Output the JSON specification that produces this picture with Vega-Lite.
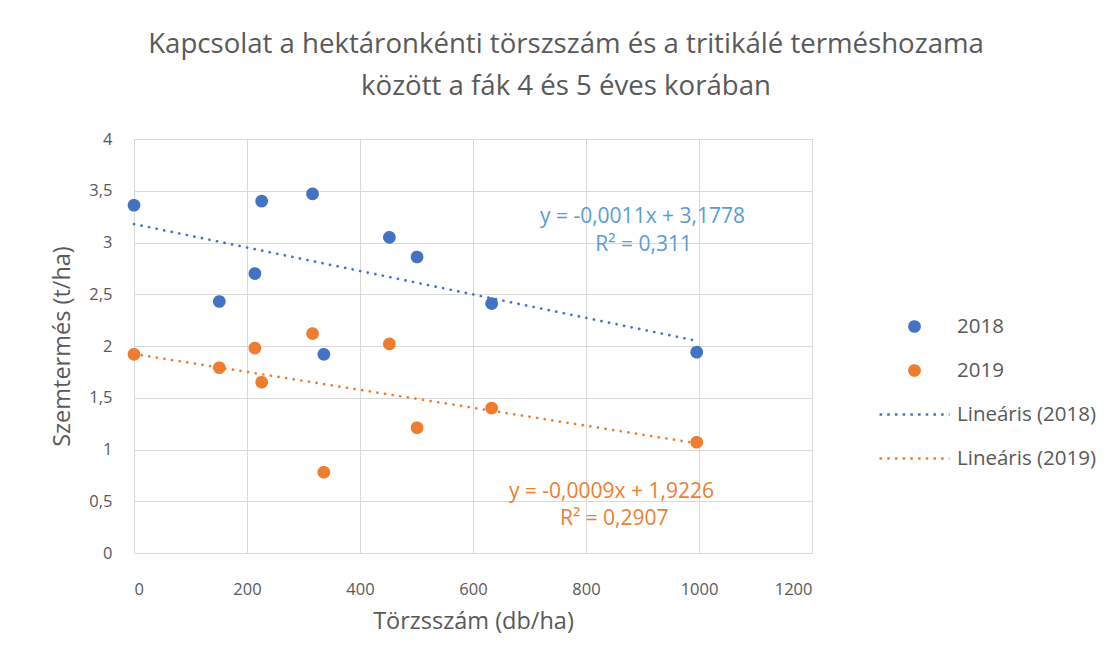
{
  "$schema": "https://vega.github.io/schema/vega-lite/v6.json",
  "width": 678,
  "height": 414,
  "autosize": {"type": "none"},
  "padding": {"left": 134, "top": 139, "right": 306, "bottom": 115},
  "background": "white",
  "title": {
    "text": ["Kapcsolat a hektáronkénti törszszám és a tritikálé terméshozama", "között a fák 4 és 5 éves korában"],
    "font": "Open Sans",
    "fontSize": 27.6,
    "fontWeight": "normal",
    "color": "#595959",
    "anchor": "middle",
    "frame": "group",
    "dx": 93,
    "lineHeight": 42,
    "baseline": "bottom",
    "offset": 2
  },
  "datasets": {
    "points": [
      {"x": 0, "y": 3.36, "series": "2018"},
      {"x": 151, "y": 2.43, "series": "2018"},
      {"x": 214, "y": 2.70, "series": "2018"},
      {"x": 226, "y": 3.40, "series": "2018"},
      {"x": 316, "y": 3.47, "series": "2018"},
      {"x": 336, "y": 1.92, "series": "2018"},
      {"x": 452, "y": 3.05, "series": "2018"},
      {"x": 501, "y": 2.86, "series": "2018"},
      {"x": 633, "y": 2.41, "series": "2018"},
      {"x": 996, "y": 1.94, "series": "2018"},
      {"x": 0, "y": 1.92, "series": "2019"},
      {"x": 151, "y": 1.79, "series": "2019"},
      {"x": 214, "y": 1.98, "series": "2019"},
      {"x": 226, "y": 1.65, "series": "2019"},
      {"x": 316, "y": 2.12, "series": "2019"},
      {"x": 336, "y": 0.78, "series": "2019"},
      {"x": 452, "y": 2.02, "series": "2019"},
      {"x": 501, "y": 1.21, "series": "2019"},
      {"x": 633, "y": 1.40, "series": "2019"},
      {"x": 996, "y": 1.07, "series": "2019"}
    ],
    "trend2018": [
      {"x": 0, "y": 3.178},
      {"x": 996, "y": 2.05}
    ],
    "trend2019": [
      {"x": 0, "y": 1.923},
      {"x": 996, "y": 1.06}
    ],
    "note2018": [
      {"x": 900, "y": 3.246, "text": "y = -0,0011x + 3,1778"},
      {"x": 902, "y": 2.976, "text": "R² = 0,311"}
    ],
    "note2019": [
      {"x": 845, "y": 0.589, "text": "y = -0,0009x + 1,9226"},
      {"x": 850, "y": 0.329, "text": "R² = 0,2907"}
    ]
  },
  "config": {
    "font": "Open Sans",
    "view": {"stroke": null},
    "axis": {
      "domain": false,
      "ticks": false,
      "grid": true,
      "gridColor": "#D9D9D9",
      "gridWidth": 1,
      "labelFont": "Open Sans",
      "labelFontSize": 16.5,
      "labelColor": "#595959",
      "titleFont": "Open Sans",
      "titleFontSize": 23.5,
      "titleFontWeight": "normal",
      "titleColor": "#595959"
    }
  },
  "layer": [
    {
      "data": {"name": "trend2018"},
      "mark": {"type": "line", "stroke": "#4472C4", "strokeWidth": 2.7, "strokeCap": "round", "strokeDash": [0.1, 7.6]},
      "encoding": {
        "x": {
          "field": "x", "type": "quantitative",
          "scale": {"domain": [0, 1200], "nice": false},
          "axis": {"values": [0, 200, 400, 600, 800, 1000, 1200], "format": "d", "title": "Törzsszám (db/ha)", "labelPadding": 28, "titlePadding": 12}
        },
        "y": {
          "field": "y", "type": "quantitative",
          "scale": {"domain": [0, 4], "nice": false},
          "axis": {"values": [0, 0.5, 1, 1.5, 2, 2.5, 3, 3.5, 4], "labelExpr": "replace(format(datum.value, '~g'), '.', ',')", "title": "Szemtermés (t/ha)", "labelPadding": 22, "titlePadding": 14}
        }
      }
    },
    {
      "data": {"name": "trend2019"},
      "mark": {"type": "line", "stroke": "#ED7D31", "strokeWidth": 2.7, "strokeCap": "round", "strokeDash": [0.1, 7.6]},
      "encoding": {
        "x": {"field": "x", "type": "quantitative"},
        "y": {"field": "y", "type": "quantitative"}
      }
    },
    {
      "data": {"name": "points"},
      "mark": {"type": "point", "filled": true, "size": 400, "strokeWidth": 2.7, "opacity": 1},
      "encoding": {
        "x": {"field": "x", "type": "quantitative"},
        "y": {"field": "y", "type": "quantitative"},
        "color": {
          "field": "series", "type": "nominal",
          "scale": {"domain": ["2018", "2019", "Lineáris (2018)", "Lineáris (2019)"], "range": ["#4472C4", "#ED7D31", "#4472C4", "#ED7D31"]},
          "legend": {
            "title": null,
            "orient": "none",
            "legendX": 769,
            "legendY": 176,
            "padding": 0,
            "symbolSize": 400,
            "symbolStrokeWidth": 2.7,
            "labelFont": "Open Sans",
            "labelFontSize": 20.5,
            "labelColor": "#595959",
            "labelOffset": 31,
            "rowPadding": 22
          }
        },
        "stroke": {
          "field": "series", "type": "nominal",
          "scale": {"domain": ["2018", "2019", "Lineáris (2018)", "Lineáris (2019)"], "range": ["#4472C4", "#ED7D31", "#4472C4", "#ED7D31"]}
        },
        "shape": {
          "field": "series", "type": "nominal",
          "scale": {"domain": ["2018", "2019", "Lineáris (2018)", "Lineáris (2019)"], "range": ["M-0.5,0A0.5,0.5,0,1,1,0.5,0A0.5,0.5,0,1,1,-0.5,0Z", "M-0.5,0A0.5,0.5,0,1,1,0.5,0A0.5,0.5,0,1,1,-0.5,0Z", "M-3.5,0H3.5", "M-3.5,0H3.5"]}
        },
        "strokeDash": {
          "field": "series", "type": "nominal",
          "scale": {"domain": ["2018", "2019", "Lineáris (2018)", "Lineáris (2019)"], "range": [[1, 0], [1, 0], [2.6, 5.1], [2.6, 5.1]]}
        }
      }
    },
    {
      "data": {"name": "note2018"},
      "mark": {"type": "text", "font": "Open Sans", "fontSize": 21, "color": "#5B9BD5", "align": "center", "baseline": "middle"},
      "encoding": {
        "x": {"field": "x", "type": "quantitative"},
        "y": {"field": "y", "type": "quantitative"},
        "text": {"field": "text", "type": "nominal"}
      }
    },
    {
      "data": {"name": "note2019"},
      "mark": {"type": "text", "font": "Open Sans", "fontSize": 21, "color": "#ED7D31", "align": "center", "baseline": "middle"},
      "encoding": {
        "x": {"field": "x", "type": "quantitative"},
        "y": {"field": "y", "type": "quantitative"},
        "text": {"field": "text", "type": "nominal"}
      }
    }
  ]
}
